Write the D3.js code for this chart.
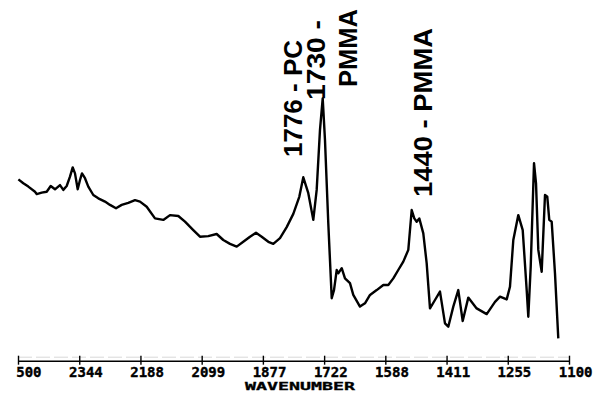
<!DOCTYPE html>
<html>
<head>
<meta charset="utf-8">
<script src="https://cdn.jsdelivr.net/npm/d3@7/dist/d3.min.js"></script>
<style>
  html, body { margin: 0; padding: 0; background: #fff; }
  svg { display: block; }
</style>
</head>
<body>
<svg id="chart" width="602" height="395"></svg>
<script>
// Wavenumber (cm-1) of traced points
const wavenumber = [2499,2486.5,2473.8,2456.8,2452.5,2439.8,2427.1,2416.9,2406,2393.3,2384.9,2376.3,2367.9,2361,2355.2,2348.3,2342.5,2337.4,2329.8,2321.4,2308.7,2296,2279,2266.2,2251,2236.5,2219.8,2202.7,2190,2173,2151.9,2130.8,2113.8,2092.7,2075.7,2054.6,2037.6,2016.5,1995.2,1978.4,1961.3,1944.3,1927.6,1910.5,1895.3,1880.8,1864,1851.3,1834.3,1817.3,1800.5,1785.3,1775.1,1762.4,1749.7,1741.1,1732.7,1725.8,1720,1711.6,1702.9,1697.1,1690.2,1686.2,1677.5,1669.2,1656.5,1648.1,1631.1,1618.4,1605.6,1588.6,1571.8,1559.1,1546.4,1533.8,1521,1508.3,1499.7,1493.1,1487,1480.4,1470.2,1461.6,1453.2,1440.5,1427.8,1415.1,1406.7,1394,1381.3,1370.1,1355.9,1334.6,1309.1,1288,1275.3,1258.3,1250,1241.5,1228.8,1217.6,1207.5,1203.4,1197.3,1188.9,1183.8,1178,1169.4,1161,1155.2,1150.1,1144,1135.6,1127.2];
// Relative absorbance (arbitrary units)
const absorbance = [60.2,58.9,57.8,56.1,55.3,55.8,56.1,58,56.9,58.3,56.7,58,61.1,64.2,62.2,56.9,60,62.2,60.6,57.8,55,53.9,52.8,51.7,50.6,51.7,52.4,53.3,52.8,51.1,47.2,46.7,48.3,48,46.1,43.3,41.1,41.3,42,40,38.7,37.8,39.4,41.1,42.4,41.1,39.4,38.7,40.6,44.3,48.7,54.4,60.9,55.6,46.7,56.7,76.7,87.2,73.3,45.6,20.6,23.3,30,28.9,30.6,27.2,25.6,21.7,17.8,18.9,21.7,23.3,25,25,27.2,30,32.8,36.7,50,47.2,46.1,47.2,42.2,32.2,17.2,20,22.8,12.2,11.1,17.8,23.3,13,20.8,17.2,15.3,19.4,21.1,20.2,24.4,40,48.3,43.3,23.3,14.4,31.1,65.6,58.9,36.7,29.4,55,54.4,46.7,46.1,28.9,7.2];

const tickValues = [2500,2344.4,2188.9,2033.3,1877.8,1722.2,1566.7,1411.1,1255.6,1100];
const tickLabels = ["500","2344","2188","2099","1877","1722","1588","1411","1255","1100"];
const xTitle = "WAVENUMBER";

const annotations = [
  { text: "1776 - PC", wn: 1776, lines: ["1776 - PC"] },
  { text: "1730 - PMMA", wn: 1730, lines: ["1730 -", "PMMA"] },
  { text: "1440 - PMMA", wn: 1440, lines: ["1440 - PMMA"] }
];

const svg = d3.select("#chart");
const x = d3.scaleLinear().domain([2500, 1100]).range([18, 569]);
const y = d3.scaleLinear().domain([0, 100]).range([360, 60]);
const axisY = 360.7;

// faint scan line above axis
svg.append("line")
  .attr("x1", 18).attr("x2", 569).attr("y1", axisY - 3.5).attr("y2", axisY - 3.5)
  .attr("stroke", "#d8d8d8").attr("stroke-width", 1).attr("stroke-dasharray", "14,4");

// axis
const axis = d3.axisBottom(x)
  .tickValues(tickValues)
  .tickSize(0)
  .tickFormat((d, i) => tickLabels[i]);
const gAxis = svg.append("g").attr("transform", `translate(0,${axisY})`).call(axis);
gAxis.select(".domain").attr("stroke", "#000").attr("stroke-width", 1.5);
gAxis.selectAll(".tick line").attr("y1", -5).attr("y2", 4).attr("stroke", "#000").attr("stroke-width", 1.4);
gAxis.selectAll(".tick text")
  .attr("text-anchor", "end")
  .attr("dx", 23)
  .attr("y", 16.3)
  .attr("dy", 0)
  .attr("fill", "#000")
  .attr("stroke", "#000")
  .attr("stroke-width", 0.4)
  .style("font-family", "'DejaVu Sans Mono', monospace")
  .style("font-weight", "bold")
  .style("font-size", "14px");

svg.append("text")
  .attr("x", 245).attr("y", 390)
  .attr("textLength", 110).attr("lengthAdjust", "spacingAndGlyphs")
  .style("font-family", "'DejaVu Sans Mono', monospace")
  .style("font-weight", "bold")
  .style("font-size", "11px")
  .attr("fill", "#000")
  .attr("stroke", "#000")
  .attr("stroke-width", 0.3)
  .text(xTitle);

// spectrum
const data = wavenumber.map((w, i) => ({ w, a: absorbance[i] }));
const line = d3.line().x(d => x(d.w)).y(d => y(d.a));
svg.append("path")
  .datum(data)
  .attr("d", line)
  .attr("fill", "none")
  .attr("stroke", "#000")
  .attr("stroke-width", 2.4)
  .attr("stroke-linejoin", "round");

// rotated annotations
const annPos = [
  [{ bx: 302, by: 157, len: 117 }],
  [{ bx: 325, by: 100, len: 80 }, { bx: 357, by: 87, len: 78 }],
  [{ bx: 432, by: 197, len: 169 }]
];
annotations.forEach((a, i) => {
  a.lines.forEach((t, j) => {
    const p = annPos[i][j];
    svg.append("text")
      .attr("transform", `translate(${p.bx},${p.by}) rotate(-90)`)
      .attr("x", 0).attr("y", 0)
      .attr("textLength", p.len).attr("lengthAdjust", "spacingAndGlyphs")
      .style("font-family", "'Liberation Sans', Arial, sans-serif")
      .style("font-weight", "bold")
      .style("font-size", "26px")
      .attr("fill", "#000")
      .text(t);
  });
});
</script>
</body>
</html>
